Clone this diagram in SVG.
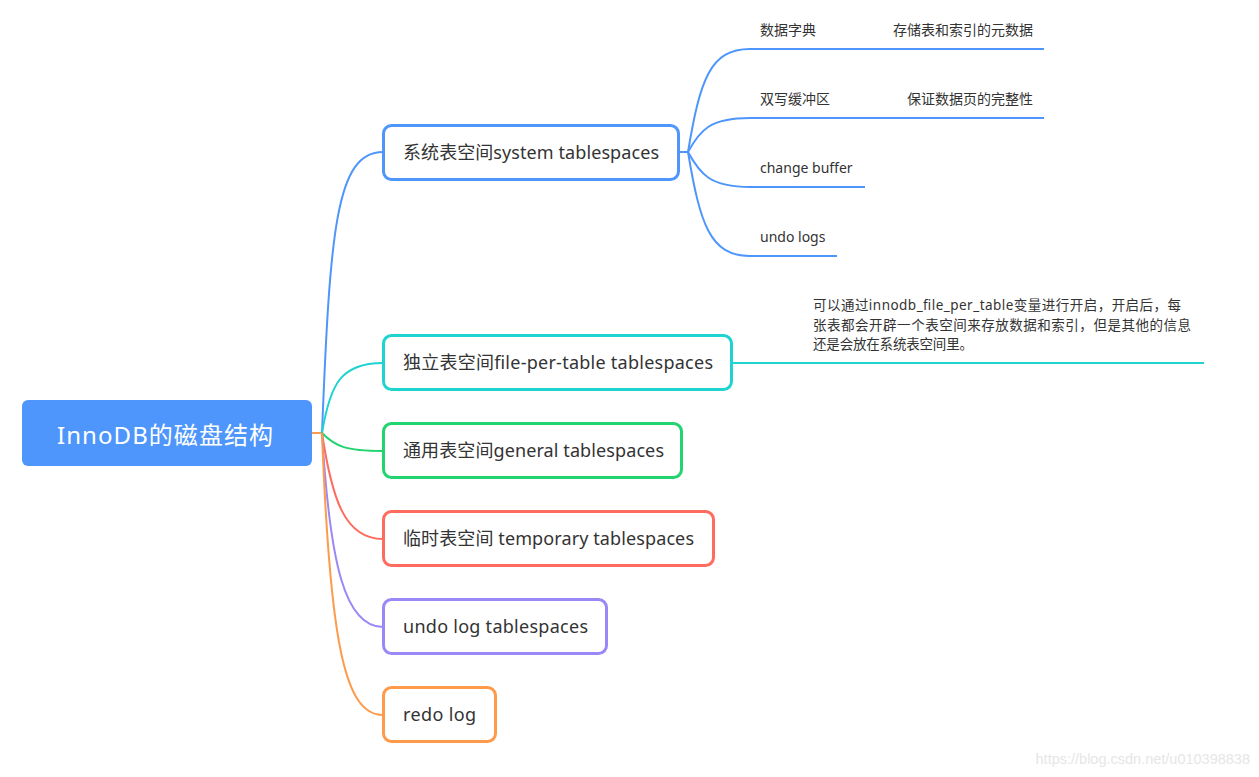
<svg xmlns="http://www.w3.org/2000/svg" width="1259" height="777" viewBox="0 0 1259 777">
<style>
.bg{fill:#ffffff}
.node{fill:#ffffff;stroke-width:3}
.t{font-family:"Noto Sans","Noto Sans CJK SC",sans-serif;fill:#333333}
.nt{font-size:18px}
.st{font-size:14px}
.dt{font-size:13.5px}
.c{fill:none;stroke-width:2}
.blue{stroke:#4e96fc}
.teal{stroke:#1ed3d0}
.green{stroke:#22d46f}
.red{stroke:#ff6b5f}
.purple{stroke:#9b88f6}
.orange{stroke:#ff9a4b}
</style>
<rect class="bg" x="0" y="0" width="1259" height="777"/>
<g id="connectors">
  <path class="c orange" d="M312,433 L322,433"/>
  <path class="c blue" d="M322,433 C330,230 336,152 383,152"/>
  <path class="c teal" d="M322,433 C330,385 340,363 383,363"/>
  <path class="c green" d="M322,433 C335,446 345,451 383,451"/>
  <path class="c red" d="M322,433 C332,500 345,539 383,539"/>
  <path class="c purple" d="M322,433 C330,565 345,627 383,627"/>
  <path class="c orange" d="M322,433 C330,645 345,715 383,715"/>
  <path class="c blue" d="M679,152 L688,152"/>
  <path class="c blue" d="M688,152 C700,80 710,49 750,49 L1044,49"/>
  <path class="c blue" d="M688,152 C700,130 710,118 750,118 L1044,118"/>
  <path class="c blue" d="M688,152 C700,174 710,187 750,187 L865,187"/>
  <path class="c blue" d="M688,152 C700,224 710,256 750,256 L837,256"/>
  <path class="c teal" d="M732,363 L1204,363"/>
</g>
<g id="root">
  <rect x="22" y="400" width="290" height="66" rx="6" fill="#4e96fc"/>
  <text class="t" x="57" y="444" font-size="24" textLength="216" lengthAdjust="spacing" style="fill:#ffffff">InnoDB的磁盘结构</text>
</g>
<g id="n-system">
  <rect class="node blue" x="383.5" y="125.5" width="295" height="54" rx="8"/>
  <text class="t nt" x="403" y="159" textLength="256" lengthAdjust="spacing">系统表空间system tablespaces</text>
</g>
<g id="n-system-dict">
  <text class="t st" x="760" y="35">数据字典</text>
  <text class="t st" x="1033" y="35" text-anchor="end">存储表和索引的元数据</text>
</g>
<g id="n-system-dw">
  <text class="t st" x="760" y="104">双写缓冲区</text>
  <text class="t st" x="1033" y="104" text-anchor="end">保证数据页的完整性</text>
</g>
<g id="n-system-cb">
  <text class="t st" x="760" y="173">change buffer</text>
</g>
<g id="n-system-undo">
  <text class="t st" x="760" y="242">undo logs</text>
</g>
<g id="n-fpt">
  <rect class="node teal" x="383.5" y="335.5" width="348" height="54" rx="8"/>
  <text class="t nt" x="403" y="369" textLength="310" lengthAdjust="spacing">独立表空间file-per-table tablespaces</text>
</g>
<g id="n-fpt-desc">
  <text class="t dt" x="813" y="310" textLength="368" lengthAdjust="spacing">可以通过innodb_file_per_table变量进行开启，开启后，每</text>
  <text class="t dt" x="813" y="330" textLength="378" lengthAdjust="spacing">张表都会开辟一个表空间来存放数据和索引，但是其他的信息</text>
  <text class="t dt" x="813" y="349" textLength="160" lengthAdjust="spacing">还是会放在系统表空间里。</text>
</g>
<g id="n-general">
  <rect class="node green" x="383.5" y="423.5" width="298" height="54" rx="8"/>
  <text class="t nt" x="403" y="457" textLength="261" lengthAdjust="spacing">通用表空间general tablespaces</text>
</g>
<g id="n-temp">
  <rect class="node red" x="383.5" y="511.5" width="330" height="54" rx="8"/>
  <text class="t nt" x="403" y="545" textLength="291" lengthAdjust="spacing">临时表空间 temporary tablespaces</text>
</g>
<g id="n-undo">
  <rect class="node purple" x="383.5" y="599.5" width="223" height="54" rx="8"/>
  <text class="t nt" x="403" y="633" textLength="185" lengthAdjust="spacing">undo log tablespaces</text>
</g>
<g id="n-redo">
  <rect class="node orange" x="383.5" y="687.5" width="112" height="54" rx="8"/>
  <text class="t nt" x="403" y="721" textLength="73" lengthAdjust="spacing">redo log</text>
</g>
<text x="1250" y="764" font-family="Liberation Sans, sans-serif" font-size="14.5" text-anchor="end" fill="#e6e6e6">https://blog.csdn.net/u010398838</text>
</svg>
